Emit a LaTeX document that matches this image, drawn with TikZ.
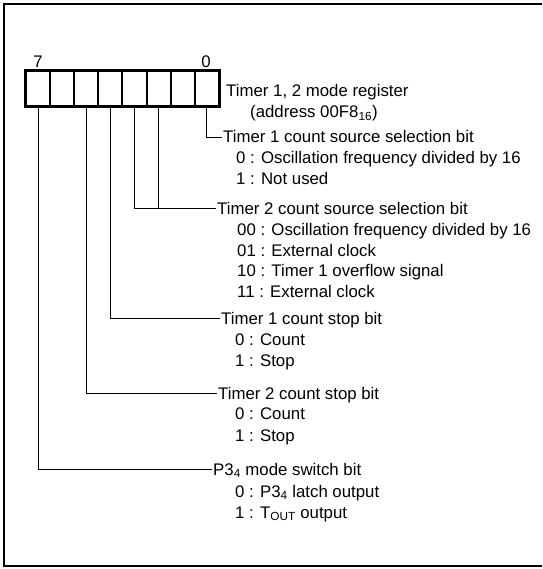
\documentclass[tikz,border=0pt]{standalone}
\usepackage{fontspec}
\setmainfont{Liberation Sans}
\begin{document}
\begin{tikzpicture}[x=1pt,y=-1pt,
  lbl/.style={anchor=west,inner sep=0pt,text height=12pt,text depth=0pt,font=\fontsize{16.8}{20}\selectfont},
  bitnum/.style={inner sep=0pt,font=\fontsize{16.8}{20}\selectfont},
  cell/.style={draw,line width=2pt,minimum width=24.125pt,minimum height=36pt,inner sep=0pt,outer sep=0pt},
  conn/.style={line width=0.9pt},
  frame/.style={line width=2pt}]
\useasboundingbox (0,0) rectangle (542,569);
% frame (right side open)
\draw[frame] (542,4) -- (4,4) -- (4,566) -- (542,566);
% register cells
\foreach \b in {7,...,0}{
  \node[cell] (c\b) at ({26+24.125*(7-\b)+12.06},89) {};
}
\draw[line width=3pt] (c7.north west) rectangle (c0.south east);
\node[bitnum] (n7) at (38,62) {7};
\node[bitnum] (n0) at (206,62) {0};
% register title
\node[lbl] (r1) at (226,91) {Timer 1, 2 mode register};
\node[lbl] (r2) at (250,112) {(address 00F8\textsubscript{16})};
% bit 0
\node[lbl] (tA) at (223,137) {Timer 1 count source selection bit};
\node[lbl] (tA0) at (236,158) {0 : Oscillation frequency divided by 16};
\node[lbl] (tA1) at (236,179) {1 : Not used};
% bits 3,2
\node[lbl] (tB) at (217,208) {Timer 2 count source selection bit};
\node[lbl] (tB0) at (237,229) {00 : Oscillation frequency divided by 16};
\node[lbl] (tB1) at (237,250) {01 : External clock};
\node[lbl] (tB2) at (237,270) {10 : Timer 1 overflow signal};
\node[lbl] (tB3) at (237,291) {11 : External clock};
% bit 4
\node[lbl] (tC) at (221,318) {Timer 1 count stop bit};
\node[lbl] (tC0) at (235,339) {0 : Count};
\node[lbl] (tC1) at (235,360) {1 : Stop};
% bit 5
\node[lbl] (tD) at (218,393) {Timer 2 count stop bit};
\node[lbl] (tD0) at (235,413) {0 : Count};
\node[lbl] (tD1) at (235,435) {1 : Stop};
% bit 7
\node[lbl] (tE) at (213,469) {P3\textsubscript{4} mode switch bit};
\node[lbl] (tE0) at (235,491) {0 : P3\textsubscript{4} latch output};
\node[lbl] (tE1) at (235,512) {1 : T\textsubscript{OUT} output};
% connectors
\draw[conn] (c0.south) |- ([xshift=-1.5pt]tA.west);
\draw[conn] (c3.south) |- ([xshift=-1.5pt]tB.west);
\draw[conn] (c2.south) |- ([xshift=-1.5pt]tB.west);
\draw[conn] (c4.south) |- ([xshift=-1.5pt]tC.west);
\draw[conn] (c5.south) |- ([xshift=-1.5pt]tD.west);
\draw[conn] (c7.south) |- ([xshift=-1.5pt]tE.west);
\end{tikzpicture}
\end{document}
